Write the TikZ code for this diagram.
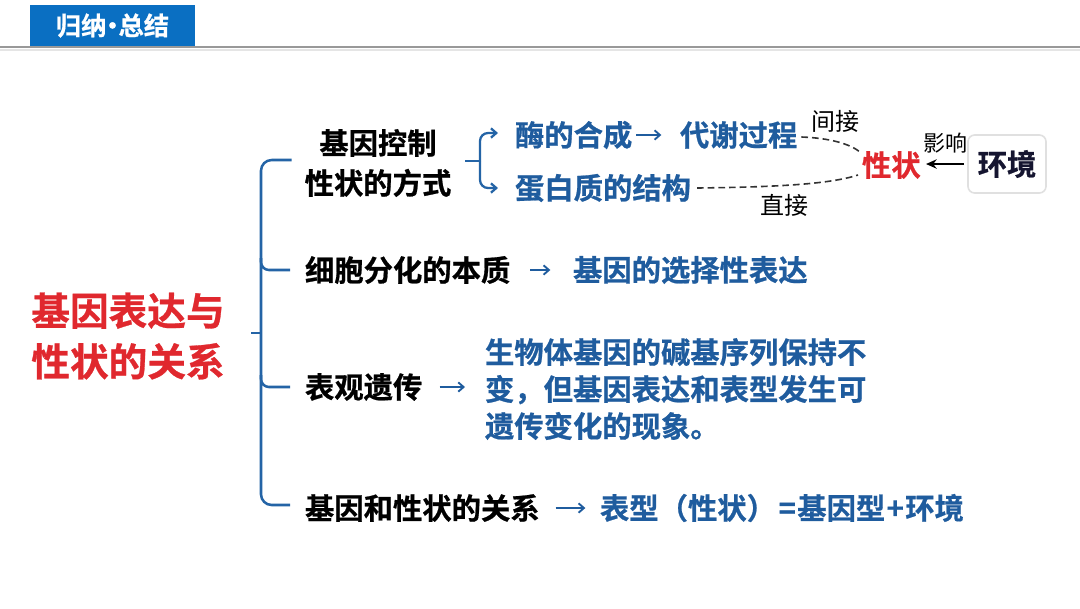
\documentclass[tikz,border=0pt]{standalone}
\usepackage{fontspec}
\newfontfamily\cjkb{Noto Sans CJK SC Bold}[FakeBold=0.7]
\newfontfamily\cjkr{Noto Sans CJK SC}
\usetikzlibrary{arrows.meta,calc}
\definecolor{hdrblue}{HTML}{0A6FC2}
\definecolor{txtblue}{HTML}{1F5C9E}
\definecolor{brblue}{HTML}{2464A6}
\definecolor{tred}{HTML}{E0282E}
\definecolor{navy}{HTML}{151530}
\begin{document}
\begin{tikzpicture}[x=0.75pt,y=-0.75pt,
  every node/.style={inner sep=0pt, outer sep=0pt},
  btxt/.style={font=\cjkb\fontsize{22pt}{30pt}\selectfont, text=black, anchor=west},
  bltxt/.style={btxt, text=txtblue},
  brk/.style={draw=brblue, line width=1.9pt},
  arr/.style={draw=txtblue, line width=1.4pt, -{Straight Barb[length=4pt,width=7pt]}},
  dsh/.style={draw=black!80, line width=1.2pt, dash pattern=on 5pt off 3pt},
  lbl/.style={font=\cjkr\fontsize{18pt}{20pt}\selectfont, text=black},
]
\useasboundingbox (0,0) rectangle (1080,608);
\fill[white] (0,0) rectangle (1080,608);
% header
\draw[line width=2.2pt, draw=black!40] (0,47) -- (1080,47);
\draw[line width=1.5pt, draw=black!10] (0,49.5) -- (1080,49.5);
\node[fill=hdrblue, minimum width=123.75pt, minimum height=30.75pt,
      font=\cjkb\fontsize{19pt}{22pt}\selectfont, text=white] (hdr) at (112.5,25.5) {归纳\hspace{-5pt}·\hspace{-5pt}总结};
% title
\node[font=\cjkb\fontsize{29pt}{38pt}\selectfont, text=tred, align=left] (title) at (128,336) {基因表达与\\性状的关系};
% left column
\node[btxt, anchor=center, align=center] (q1) at (378,163) {基因控制\\性状的方式};
\node[btxt] (q2) at (305,270) {细胞分化的本质};
\node[btxt] (q3) at (305,387) {表观遗传};
\node[btxt] (q4) at (305,508) {基因和性状的关系};
% big bracket
\coordinate (sT) at (261,160);
\coordinate (sB) at (261,505);
\coordinate (tk) at (251,333);
\draw[brk, rounded corners=8pt] ($(q1.west)+(-13,-3)$) -- (sT) -- (sB) -- ($(q4.west)+(-15,-3)$);
\draw[brk, rounded corners=6pt] ($(sT|-q2.west)+(0,-12)$) -- (sT|-q2.west) -- ($(q2.west)+(-15,0)$);
\draw[brk, rounded corners=6pt] ($(sT|-q3.west)+(0,-12)$) -- (sT|-q3.west) -- ($(q3.west)+(-15,0)$);
\draw[brk] (tk) -- (tk-|sT);
% upper branch
\node[bltxt] (e1) at (515,135) {酶的合成};
\node[bltxt] (e2) at (680,135) {代谢过程};
\node[bltxt] (e3) at (515,188) {蛋白质的结构};
\coordinate (bc) at (480,161);
\draw[brk, line width=1.7pt] ($(q1.east)+(14,-2)$) -- (bc);
\draw[brk, line width=1.7pt, rounded corners=6pt, -{Straight Barb[length=4pt,width=7pt]}] (bc) |- ($(e1.west)+(-17,-2)$);
\draw[brk, line width=1.7pt, rounded corners=6pt, -{Straight Barb[length=4pt,width=7pt]}] (bc) |- ($(e3.west)+(-17,0)$);
\draw[arr, shorten <=3pt, shorten >=14pt] (e1.east) -- (e2.west);
% trait and environment
\node[font=\cjkb\fontsize{22pt}{26pt}\selectfont, text=tred, anchor=west] (xz) at (862,165) {性状};
\node[draw=black!12, line width=1.2pt, rounded corners=5pt, minimum width=58.5pt, minimum height=43.5pt,
      font=\cjkb\fontsize{22pt}{26pt}\selectfont, text=navy] (hj) at (1007,164) {环境};
\draw[line width=1.5pt, -{Stealth[length=8pt,width=7pt]}, shorten <=3pt, shorten >=4pt] (hj.west) -- (xz.east|-hj.west);
\node[lbl, font=\cjkr\fontsize{16.5pt}{20pt}\selectfont] (yx) at (945,143) {影响};
\node[lbl] (jj) at (835,121) {间接};
\node[lbl] (zj) at (784,205) {直接};
\draw[dsh] ($(e2.east)+(4,2)$) .. controls (830,138) and (850,144) .. ($(xz.west)+(-2,-13)$);
\draw[dsh] ($(e3.east)+(6,0)$) .. controls (780,187) and (830,184) .. ($(xz.west)+(-4,10)$);
% row 2
\node[bltxt] (r2) at (573,270) {基因的选择性表达};
\draw[arr, shorten <=15pt, shorten >=17pt] (q2.east) -- (r2.west);
% row 3
\node[bltxt, align=left, font=\cjkb\fontsize{22pt}{27.75pt}\selectfont] (p3) at (485,389) {生物体基因的碱基序列保持不\\变，但基因表达和表型发生可\\遗传变化的现象。};
\draw[arr, shorten <=13pt, shorten >=15pt] (q3.east) -- (q3.east-|p3.west);
% row 4
\node[bltxt] (r4) at (600,508) {表型（性状）\hspace{2pt}=\hspace{1pt}基因型\hspace{1pt}+\hspace{1pt}环境};
\draw[arr, shorten <=12pt, shorten >=11pt] (q4.east) -- (r4.west);
\end{tikzpicture}
\end{document}
